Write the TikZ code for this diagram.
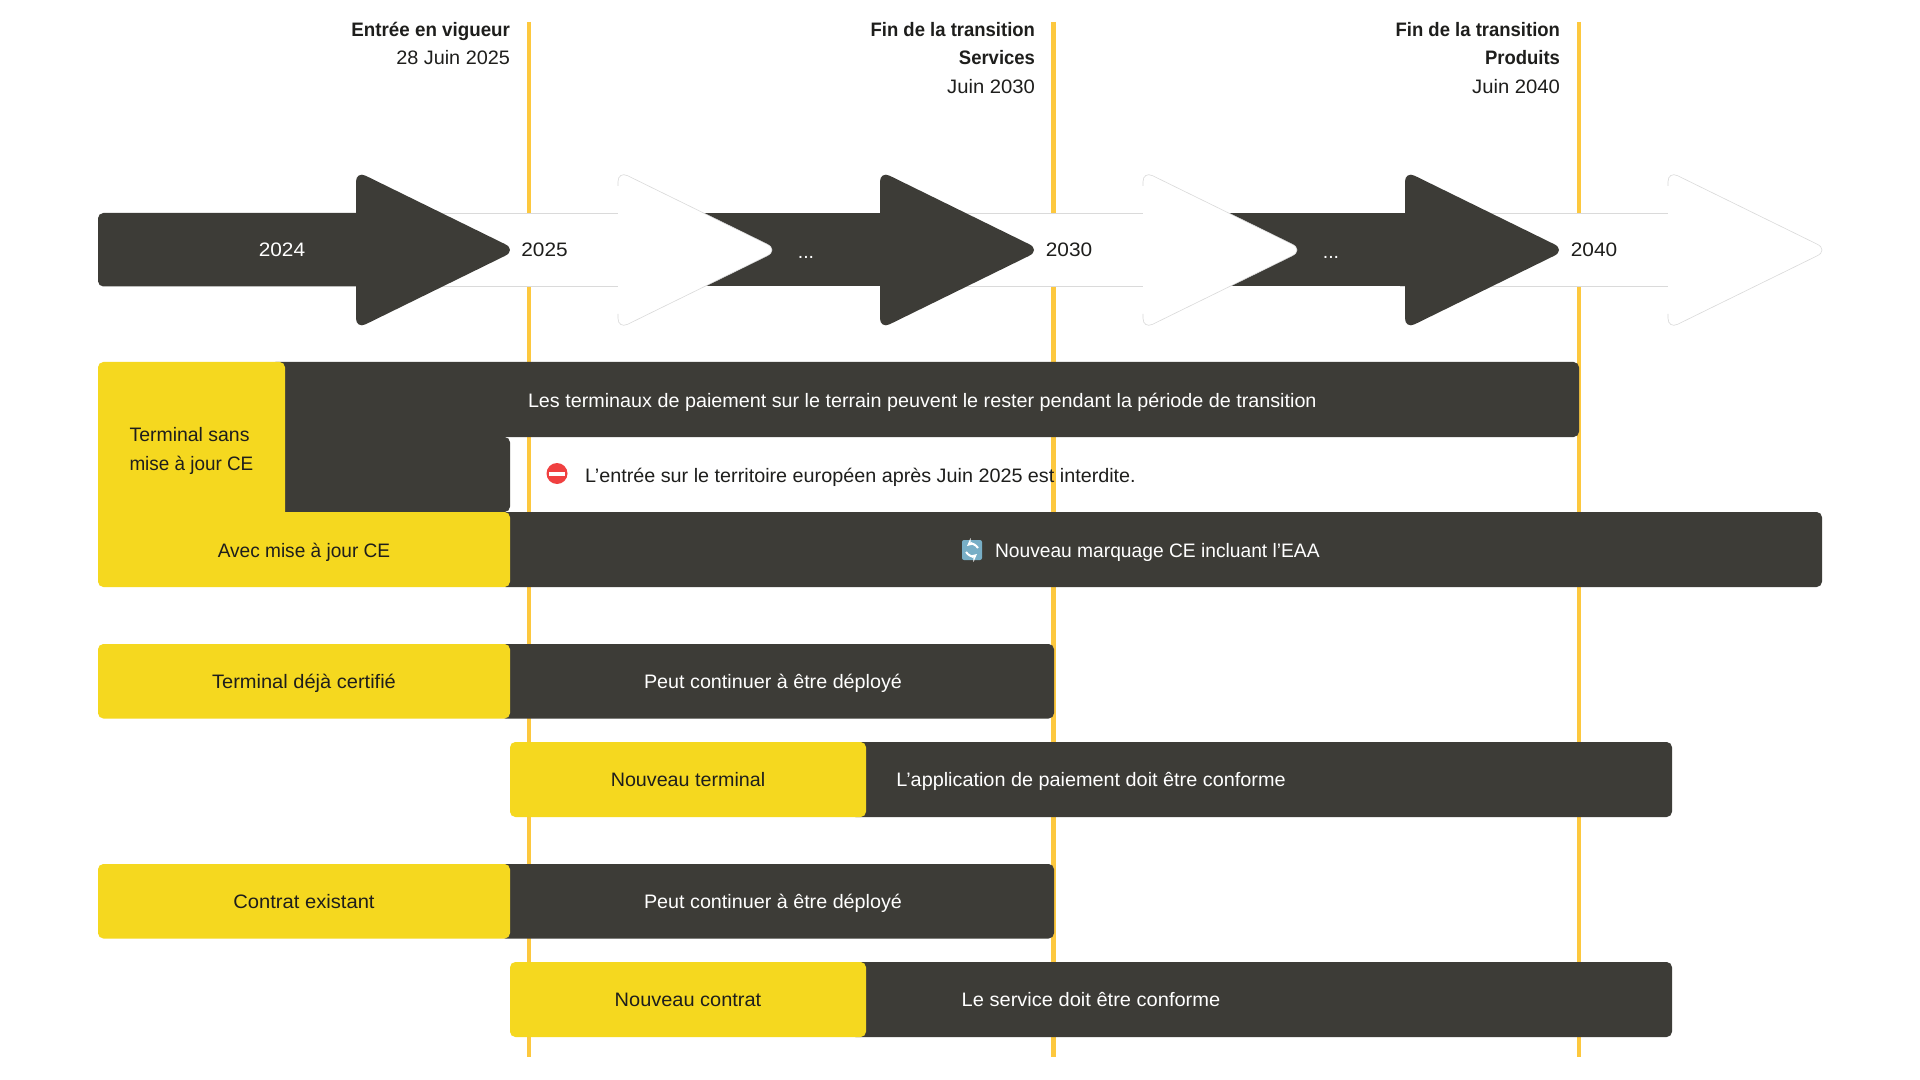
\documentclass[tikz,border=0pt]{standalone}
\usepackage{fontspec}
\setmainfont{Liberation Sans}
\newfontface\hdrbold[FakeStretch=0.95]{Liberation Sans Bold}
\definecolor{darkbar}{HTML}{3D3C37}
\definecolor{yellowbar}{HTML}{F5D81F}
\definecolor{timeline}{HTML}{FDC83E}
\definecolor{ink}{HTML}{1E1E1C}
\definecolor{outline}{HTML}{DADADA}
\definecolor{norel}{HTML}{F04040}
\definecolor{cyclebox}{HTML}{78AEC6}
\newcommand{\sx}[2]{\scalebox{#1}[1]{#2}}
\newcommand{\darkhead}[1]{\path[fill=darkbar,shift={(#1,0)}] (0,250) [rounded corners=8pt] -- (0,171) [rounded corners=10pt] -- (161,250) [rounded corners=8pt] -- (0,329) [sharp corners] -- cycle;}
\newcommand{\whitehead}[1]{%
  \path[fill=white,shift={(#1,0)}] (0,250) [rounded corners=8pt] -- (0,171) [rounded corners=10pt] -- (161,250) [rounded corners=8pt] -- (0,329) [sharp corners] -- cycle;
  \path[draw=outline,line width=0.45pt,shift={(#1,0)}] (0,186) [rounded corners=8pt] -- (0,171) [rounded corners=10pt] -- (161,250) [rounded corners=8pt] -- (0,329) [sharp corners] -- (0,314);}
\newcommand{\whitebar}[2]{%
  \fill[white] (#1,213) rectangle (#2,286);
  \draw[outline,line width=0.7pt] (#1,213) -- (#2,213) (#1,286.5) -- (#2,286.5);}
\tikzset{
  every node/.style={inner sep=0pt,outer sep=0pt,text height=10.5pt,text depth=0pt,font=\fontsize{14.6}{17.2}\selectfont},
  darkfill/.style={fill=darkbar,rounded corners=4pt},
  yellowfill/.style={fill=yellowbar,rounded corners=4pt},
  tline/.style={draw=timeline,line width=3.4pt},
  lighttext/.style={text=white},
  inktext/.style={text=ink},
  hdr/.style={text=ink,anchor=east},
}
\begin{document}
\begin{tikzpicture}[x=0.75pt,y=-0.75pt]
\useasboundingbox (0,0) rectangle (1920,1080);
\fill[white] (0,0) rectangle (1920,1080);
% timeline markers
\draw[tline] (529,22) -- (529,1057);
\draw[tline] (1053.5,22) -- (1053.5,1057);
\draw[tline] (1579,22) -- (1579,1057);
% headers
\node[hdr] (h1a) at (510,30) {\sx{1.015}{\hdrbold Entrée en vigueur}};
\node[hdr] (h1b) at (510,58) {\sx{1.02}{28 Juin 2025}};
\node[hdr] (h2a) at (1035,30) {\hdrbold Fin de la transition};
\node[hdr] (h2b) at (1035,58) {\hdrbold Services};
\node[hdr] (h2c) at (1035,86.5) {\sx{1.04}{Juin 2030}};
\node[hdr] (h3a) at (1560,30) {\hdrbold Fin de la transition};
\node[hdr] (h3b) at (1560,58) {\hdrbold Produits};
\node[hdr] (h3c) at (1560,86.5) {\sx{1.04}{Juin 2040}};
% arrows, right to left so that each head overlaps the next body
\whitebar{1400}{1668}
\whitehead{1668}
\fill[darkbar] (1180,213) rectangle (1410,286.5);
\darkhead{1405}
\whitebar{880}{1143}
\whitehead{1143}
\fill[darkbar] (650,213) rectangle (885,286.5);
\darkhead{880}
\whitebar{356}{618}
\whitehead{618}
\fill[darkbar,rounded corners=4pt] (98,213) rectangle (375,286.5);
\darkhead{356}
\node[lighttext] (y24) at (282,250) {\sx{1.07}{2024}};
\node[inktext] (y25) at (544.5,250) {\sx{1.07}{2025}};
\node[lighttext] (d1) at (806,252) {...};
\node[inktext] (y30) at (1069,250) {\sx{1.07}{2030}};
\node[lighttext] (d2) at (1331,252) {...};
\node[inktext] (y40) at (1594,250) {\sx{1.07}{2040}};
% rows 1-3
\path[darkfill] (270,437) rectangle (510,512);
\path[darkfill] (270,362) rectangle (1579,437);
\fill[darkbar] (270,400) rectangle (400,470);
\path[darkfill] (500,512) rectangle (1822,587);
\path[yellowfill] (98,362) rectangle (285,530);
\path[yellowfill] (98,512) rectangle (510,587);
\fill[yellowbar] (98,505) rectangle (285,520);
\node[inktext,anchor=west] (r1a) at (129.5,434.5) {Terminal sans};
\node[inktext,anchor=west] (r1b) at (129.5,463) {\sx{0.97}{mise à jour CE}};
\node[lighttext,anchor=west] (r1c) at (528,400.5) {\sx{1.015}{Les terminaux de paiement sur le terrain peuvent le rester pendant la période de transition}};
\fill[norel] (557,473.5) circle (10.5);
\fill[white] (549,471.5) rectangle (565,475.5);
\node[inktext,anchor=west] (r2) at (585,475.5) {\sx{1.016}{L’entrée sur le territoire européen après Juin 2025 est interdite.}};
\node[inktext] (r3a) at (304,550) {\sx{0.98}{Avec mise à jour CE}};
\fill[cyclebox,rounded corners=1.5pt] (962,540) rectangle (982,560);
\draw[white,line width=1.5pt,-stealth] (978,548) to[bend right=50] (967,546);
\draw[white,line width=1.5pt,-stealth] (966,552) to[bend right=50] (977,554);
\node[lighttext,anchor=west] (r3b) at (995,550) {\sx{0.987}{Nouveau marquage CE incluant l’EAA}};
% rows 4-5
\path[darkfill] (500,644) rectangle (1054,718.5);
\path[yellowfill] (98,644) rectangle (510,718.5);
\node[inktext] (r4a) at (304,681.5) {\sx{1.03}{Terminal déjà certifié}};
\node[lighttext] (r4b) at (773,681.5) {\sx{1.014}{Peut continuer à être déployé}};
\path[darkfill] (850,742) rectangle (1672,817);
\path[yellowfill] (510,742) rectangle (866,817);
\node[inktext] (r5a) at (688,779.5) {\sx{1.012}{Nouveau terminal}};
\node[lighttext] (r5b) at (1091,779.5) {\sx{1.019}{L’application de paiement doit être conforme}};
% rows 6-7
\path[darkfill] (500,864) rectangle (1054,938.5);
\path[yellowfill] (98,864) rectangle (510,938.5);
\node[inktext] (r6a) at (304,901.5) {\sx{1.036}{Contrat existant}};
\node[lighttext] (r6b) at (773,901.5) {\sx{1.014}{Peut continuer à être déployé}};
\path[darkfill] (850,962) rectangle (1672,1037);
\path[yellowfill] (510,962) rectangle (866,1037);
\node[inktext] (r7a) at (688,999.5) {\sx{1.026}{Nouveau contrat}};
\node[lighttext] (r7b) at (1091,999.5) {\sx{1.03}{Le service doit être conforme}};
\end{tikzpicture}
\end{document}
